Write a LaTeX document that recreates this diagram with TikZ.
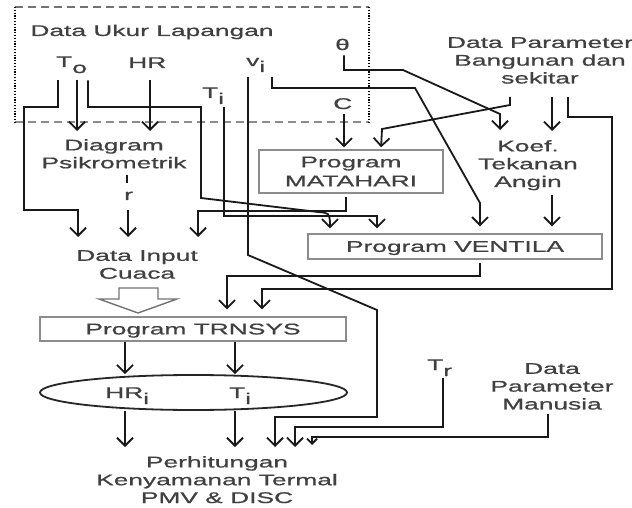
\documentclass[tikz,border=0pt]{standalone}
\usepackage{fontspec}
\setmainfont{Liberation Sans}[FakeStretch=1.7,FakeBold=0.8]
\usetikzlibrary{arrows.meta,shapes.geometric}
\newcommand{\lowsub}[1]{\raisebox{-6pt}{#1}}
\begin{document}
\begin{tikzpicture}[x=1pt,y=-1pt,
  txt/.style={inner sep=0pt, text=black!75, font=\fontsize{15.5}{17.8}\selectfont},
  mtxt/.style={txt, align=center, anchor=north},
  conn/.style={line width=1.8pt, draw=black!90},
  arr/.style={conn, -{Straight Barb[length=8pt,width=16pt]}},
  smallarr/.style={conn, -{Straight Barb[length=5pt,width=10pt]}},
  boxy/.style={draw=black!45, line width=1.4pt, rectangle, inner sep=0pt, text=black!75,
    font=\fontsize{15.5}{19}\selectfont, align=center},
]
\useasboundingbox (0,0) rectangle (632,508);

% field-data frame
\draw[black!55, line width=1.8pt, dash pattern=on 8pt off 5pt] (15,7) -- (369,7);
\draw[black!45, line width=1.8pt, dash pattern=on 8pt off 5pt] (15,122) -- (369,122);
\draw[black, line width=1.6pt, dash pattern=on 1.2pt off 1.6pt] (15,7) -- (15,122);
\draw[black, line width=1.6pt, dash pattern=on 1.2pt off 1.6pt] (369,7) -- (369,122);

% labels and boxes
\node[txt, anchor=base] (lap) at (152,36) {Data Ukur Lapangan};
\node[txt, anchor=base west] (To) at (56,67) {T\lowsub{o}};
\node[txt, anchor=base west] (HR) at (128,68) {HR};
\node[txt, anchor=base west] (vi) at (246,66) {v\lowsub{i}};
\node[txt, anchor=base west] (Ti) at (202,98) {T\lowsub{i}};
\node[txt, anchor=base west] (th) at (335,50) {θ};
\node[txt, anchor=base west] (C) at (333,109) {C};
\node[mtxt] (bld) at (540,37) {Data Parameter\\Bangunan dan\\sekitar};
\node[mtxt] (psi) at (114,139) {Diagram\\Psikrometrik};
\node[txt, anchor=base west] (r) at (124,200) {r};
\node[mtxt] (inp) at (137,250) {Data Input\\Cuaca};
\node[boxy, minimum width=184pt, minimum height=43pt] (mat) at (351,171.5) {Program\\MATAHARI};
\node[mtxt] (koef) at (528,140) {Koef.\\Tekanan\\Angin};
\node[boxy, minimum width=294pt, minimum height=25pt, text depth=0pt] (ven) at (455,246.5) {Program VENTILA};
\node[boxy, minimum width=306pt, minimum height=24pt, text depth=0pt] (trn) at (193,329) {Program TRNSYS};
\node[draw=black!85, line width=1.8pt, ellipse, minimum width=307pt, minimum height=35pt, inner sep=0pt] (ell) at (193.5,392.5) {};
\node[txt, anchor=base west] (hri) at (105,398) {HR\lowsub{i}};
\node[txt, anchor=base west] (tii) at (229,398) {T\lowsub{i}};
\node[txt, anchor=base west] (Tr) at (427,370) {T\lowsub{r}};
\node[mtxt] (man) at (552,363) {Data\\Parameter\\Manusia};
\node[mtxt] (per) at (217,456) {Perhitungan\\Kenyamanan Termal\\PMV \& DISC};

% hollow arrow: weather input -> TRNSYS
\draw[black!55, line width=1.4pt, fill=white] (119,288) -- (158,288) -- (158,299) -- (177,299)
  -- (138,313) -- (99,299) -- (119,299) -- cycle;

% connectors
\draw[arr, shorten <=7pt, shorten >=13pt] (58,0 |- To.south) -- (58,107) -- (24,107) -- (24,210) -- (78,210) -- (78,0 |- inp.north);
\draw[arr, shorten <=7pt, shorten >=8pt] (77,0 |- To.south) -- (77,0 |- psi.north);
\draw[arr, shorten <=7pt, shorten >=5pt] (88,0 |- To.south) -- (88,107) -- (201,107) -- (201,198) -- (318,212)
  .. controls (329,213) .. (330,222) -- (330,0 |- ven.north);
\draw[arr, shorten <=12pt, shorten >=8pt] (150,0 |- HR.south) -- (150,0 |- psi.north);
\draw[conn, shorten <=6pt, shorten >=8pt] (127,0 |- psi.south) -- (127,0 |- r.north);
\draw[arr, shorten <=10pt, shorten >=13pt] (128,0 |- r.south) -- (128,0 |- inp.north);
\draw[arr, shorten <=3pt, shorten >=5pt] (224,0 |- Ti.south) -- (224,216) -- (377,216) -- (377,0 |- ven.north);
\draw[arr, shorten <=5pt, shorten >=9pt] (248,0 |- vi.south) -- (248,255) -- (377,310) -- (377,417) -- (275,417) -- (275,0 |- per.north);
\draw[arr, shorten <=5pt, shorten >=7pt] (272,0 |- vi.south) -- (272,88) -- (415,88) -- (480,203) -- (480,0 |- ven.north);
\draw[arr, shorten <=5pt, shorten >=10pt] (344,0 |- th.south) -- (344,70) -- (403,70) -- (500,114) -- (500,0 |- koef.north);
\draw[arr, shorten <=5pt, shorten >=2pt] (344,0 |- C.south) -- (344,0 |- mat.north);
\draw[arr, shorten <=13pt, shorten >=2pt] (510,0 |- bld.south) -- (510,105) -- (382,129) -- (381,0 |- mat.north);
\draw[arr, shorten <=13pt, shorten >=9pt] (552,0 |- bld.south) -- (552,0 |- koef.north);
\draw[arr, shorten <=13pt, shorten >=7pt] (568,0 |- bld.south) -- (568,117) -- (612,117) -- (612,289) -- (262,289) -- (262,0 |- trn.north);
\draw[arr, shorten <=5pt, shorten >=7pt] (552,0 |- koef.south) -- (552,0 |- ven.north);
\draw[arr, shorten <=3pt, shorten >=13pt] (346,0 |- mat.south) -- (346,211) -- (198,211) -- (198,0 |- inp.north);
\draw[arr, shorten <=3pt, shorten >=7pt] (480,0 |- ven.south) -- (480,276) -- (227,276) -- (227,0 |- trn.north);
\draw[arr] (125,0 |- trn.south) -- (125,0 |- ell.north);
\draw[arr] (235,0 |- trn.south) -- (235,0 |- ell.north);
\draw[arr, shorten >=9pt] (125,0 |- ell.south) -- (125,0 |- per.north);
\draw[arr, shorten >=9pt] (235,0 |- ell.south) -- (235,0 |- per.north);
\draw[arr, shorten <=2pt, shorten >=9pt] (443,0 |- Tr.south) -- (443,427) -- (295,427) -- (295,0 |- per.north);
\draw[smallarr, shorten <=4pt, shorten >=11pt] (548,0 |- man.south) -- (548,437) -- (312,437) -- (312,0 |- per.north);
\end{tikzpicture}
\end{document}
